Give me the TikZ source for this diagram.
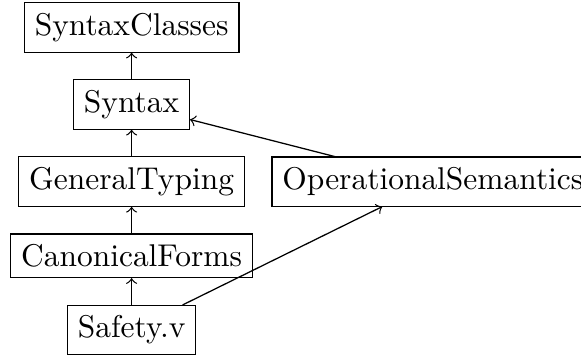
\documentclass[tikz,border=0pt]{standalone}
\usetikzlibrary{positioning}
\begin{document}
\begin{tikzpicture}[
  module/.style={draw, rectangle, outer sep=0.1pt, overlay},
  dep/.style={->},
  node distance=0.3cm
]
  % dependency chain of the development
  \node[module] (sc) {SyntaxClasses};
  \node[module, below=of sc] (syn) {Syntax};
  \node[module, below=of syn] (gt) {GeneralTyping};
  \node[module, right=of gt] (os) {OperationalSemantics};
  \node[module, below=of gt] (cf) {CanonicalForms};
  \node[module, below=of cf] (saf) {Safety.v};

  % page frame: the right end of the widest box runs off the page
  \coordinate (tl) at ([xshift=-7.63pt, yshift=0.76pt]sc.north west);
  \useasboundingbox (tl) rectangle ++(184.7pt,-112.6pt);

  % imports
  \draw[dep] (syn) -- (sc);
  \draw[dep] (gt) -- (syn);
  \draw[dep] (cf) -- (gt);
  \draw[dep] (saf) -- (cf);
  \draw[dep] (os) -- (syn);
  \draw[dep] (saf) -- (os);
\end{tikzpicture}
\end{document}
